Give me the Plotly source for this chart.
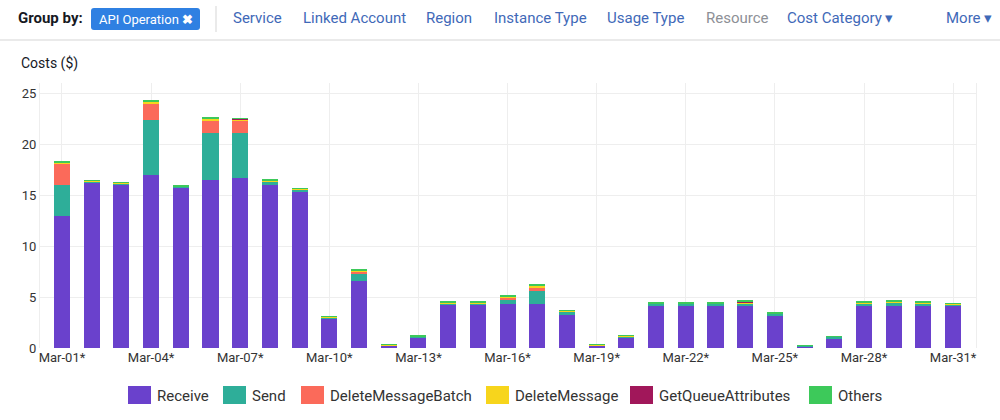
import plotly.graph_objects as go

# ---------------- data ----------------
days = [f"Mar-{d:02d}*" for d in range(1, 32)]
tick_labels = [days[i] for i in range(0, 31, 3)]

receive = [13.0, 16.15, 15.95, 16.95, 15.75, 16.5, 16.7, 16.0, 15.4, 2.85,
           6.6, 0.2, 1.05, 4.25, 4.25, 4.35, 4.35, 3.25, 0.2, 1.05,
           4.2, 4.2, 4.2, 4.15, 3.2, 0.18, 0.98, 4.15, 4.15, 4.2, 4.15]
send = [2.95, 0.2, 0.2, 5.45, 0.1, 4.6, 4.35, 0.25, 0.15, 0.15,
        0.62, 0.08, 0.1, 0.15, 0.15, 0.45, 1.2, 0.35, 0.08, 0.12,
        0.15, 0.15, 0.15, 0.2, 0.15, 0.06, 0.1, 0.2, 0.3, 0.15, 0.15]
delete_batch = [2.15, 0, 0, 1.55, 0, 1.2, 1.2, 0, 0, 0,
                0.3, 0, 0, 0, 0, 0.15, 0.43, 0, 0, 0,
                0, 0, 0, 0, 0, 0, 0, 0, 0, 0, 0]
delete_msg = [0.12, 0.05, 0.05, 0.2, 0.03, 0.2, 0.2, 0.2, 0.05, 0.05,
              0.12, 0.02, 0.02, 0.05, 0.05, 0.08, 0.15, 0.03, 0.02, 0.03,
              0.05, 0.05, 0.05, 0.15, 0.03, 0.02, 0.02, 0.15, 0.1, 0.1, 0.04]
get_queue = [0.02, 0.01, 0.01, 0.02, 0.01, 0.02, 0.02, 0.01, 0.01, 0.01,
             0.01, 0, 0, 0.01, 0.01, 0.01, 0.01, 0.01, 0, 0,
             0.01, 0.01, 0.01, 0.01, 0.01, 0, 0, 0.01, 0.01, 0.01, 0.01]
others = [0.08, 0.05, 0.05, 0.1, 0.02, 0.07, 0.07, 0.1, 0.05, 0.05,
          0.05, 0.02, 0.03, 0.08, 0.08, 0.1, 0.05, 0.04, 0.02, 0.05,
          0.08, 0.08, 0.08, 0.2, 0.05, 0.02, 0.02, 0.1, 0.15, 0.15, 0.05]

series_names = ["Receive", "Send", "DeleteMessageBatch", "DeleteMessage",
                "GetQueueAttributes", "Others"]
series_values = [receive, send, delete_batch, delete_msg, get_queue, others]
series_colors = ["#6a41cc", "#2eae99", "#fb6a5a", "#f7d51c", "#a1175a", "#3dc95a"]

header_links = ["Service", "Linked Account", "Region", "Instance Type",
                "Usage Type", "Resource", "Cost Category ▾", "More ▾"]

# ---------------- layout helpers (pixel -> paper) ----------------
L, R, T, B = 40, 976, 83, 348
W, H = 1000, 420


def px(x):
    return (x - L) / (R - L)


def py(y):
    return (B - y) / (B - T)


FONT = "Roboto, Open Sans, sans-serif"

fig = go.Figure()
for name, vals, col in zip(series_names, series_values, series_colors):
    fig.add_trace(go.Bar(x=days, y=vals, name=name, marker_color=col,
                         marker_line_width=0, showlegend=False))

shapes = []
annotations = []

# header bottom line
shapes.append(dict(type="line", xref="paper", yref="paper",
                   x0=px(0), x1=px(1000), y0=py(40), y1=py(40),
                   line=dict(color="#e3e3e3", width=1.5)))
annotations.append(dict(text="<b>Group by:</b>", xref="paper", yref="paper",
                        x=px(16), y=py(18), xanchor="left", yanchor="middle",
                        showarrow=False, font=dict(family=FONT, size=15, color="#16191f")))
# blue pill
x0, x1, y0, y1, r = px(91), px(200), py(8), py(30), 3
rx, ry = r / (R - L), r / (B - T)
path = (f"M {x0+rx},{y0} L {x1-rx},{y0} Q {x1},{y0} {x1},{y0-ry} "
        f"L {x1},{y1+ry} Q {x1},{y1} {x1-rx},{y1} L {x0+rx},{y1} "
        f"Q {x0},{y1} {x0},{y1+ry} L {x0},{y0-ry} Q {x0},{y0} {x0+rx},{y0} Z")
shapes.append(dict(type="path", xref="paper", yref="paper", path=path,
                   fillcolor="#2f80e2", line=dict(width=0)))
annotations.append(dict(text="API Operation <b>✖</b>", xref="paper", yref="paper",
                        x=px(97), y=py(19), xanchor="left", yanchor="middle",
                        showarrow=False, font=dict(family=FONT, size=13, color="white")))
shapes.append(dict(type="line", xref="paper", yref="paper",
                   x0=px(216), x1=px(216), y0=py(6), y1=py(32),
                   line=dict(color="#d5d5d5", width=1)))
link_x = [231, 301, 424, 492, 605, 704, 785, 944]
for t, xx in zip(header_links, link_x):
    col = "#8d9096" if t == "Resource" else "#3f69b8"
    annotations.append(dict(text=t, xref="paper", yref="paper",
                            x=px(xx), y=py(18), xanchor="left", yanchor="middle",
                            showarrow=False, font=dict(family=FONT, size=15, color=col)))

annotations.append(dict(text="Costs ($)", xref="paper", yref="paper",
                        x=px(19), y=py(63), xanchor="left", yanchor="middle",
                        showarrow=False, font=dict(family=FONT, size=14, color="#16191f")))

# custom legend
leg_sq = [128, 223, 301, 486, 630, 809]
for name, col, xx in zip(series_names, series_colors, leg_sq):
    shapes.append(dict(type="rect", xref="paper", yref="paper",
                       x0=px(xx), x1=px(xx + 23), y0=py(386), y1=py(404),
                       fillcolor=col, line=dict(width=0)))
    annotations.append(dict(text=name, xref="paper", yref="paper",
                            x=px(xx + 27), y=py(395.5), xanchor="left", yanchor="middle",
                            showarrow=False, font=dict(family=FONT, size=15, color="#333333")))

fig.update_layout(
    width=W, height=H,
    margin=dict(l=L, r=W - R, t=T, b=H - B),
    paper_bgcolor="white", plot_bgcolor="white",
    barmode="stack", bargap=0.46,
    font=dict(family=FONT, color="#333333"),
    shapes=shapes, annotations=annotations,
    showlegend=False,
    xaxis=dict(type="category", range=[-0.74, 30.77], tickmode="array",
               tickvals=tick_labels, ticktext=tick_labels,
               showgrid=True, gridcolor="#eeeeee", gridwidth=1,
               tickfont=dict(size=13, color="#333333"), ticks="",
               showline=False, zeroline=False, fixedrange=True),
    yaxis=dict(range=[0, 26], tickvals=[0, 5, 10, 15, 20, 25],
               showgrid=True, gridcolor="#eeeeee", gridwidth=1,
               tickfont=dict(size=13, color="#333333"), ticks="",
               showline=True, linecolor="#eeeeee", mirror=True,
               zeroline=False, fixedrange=True),
)

fig.write_html("out.html")
